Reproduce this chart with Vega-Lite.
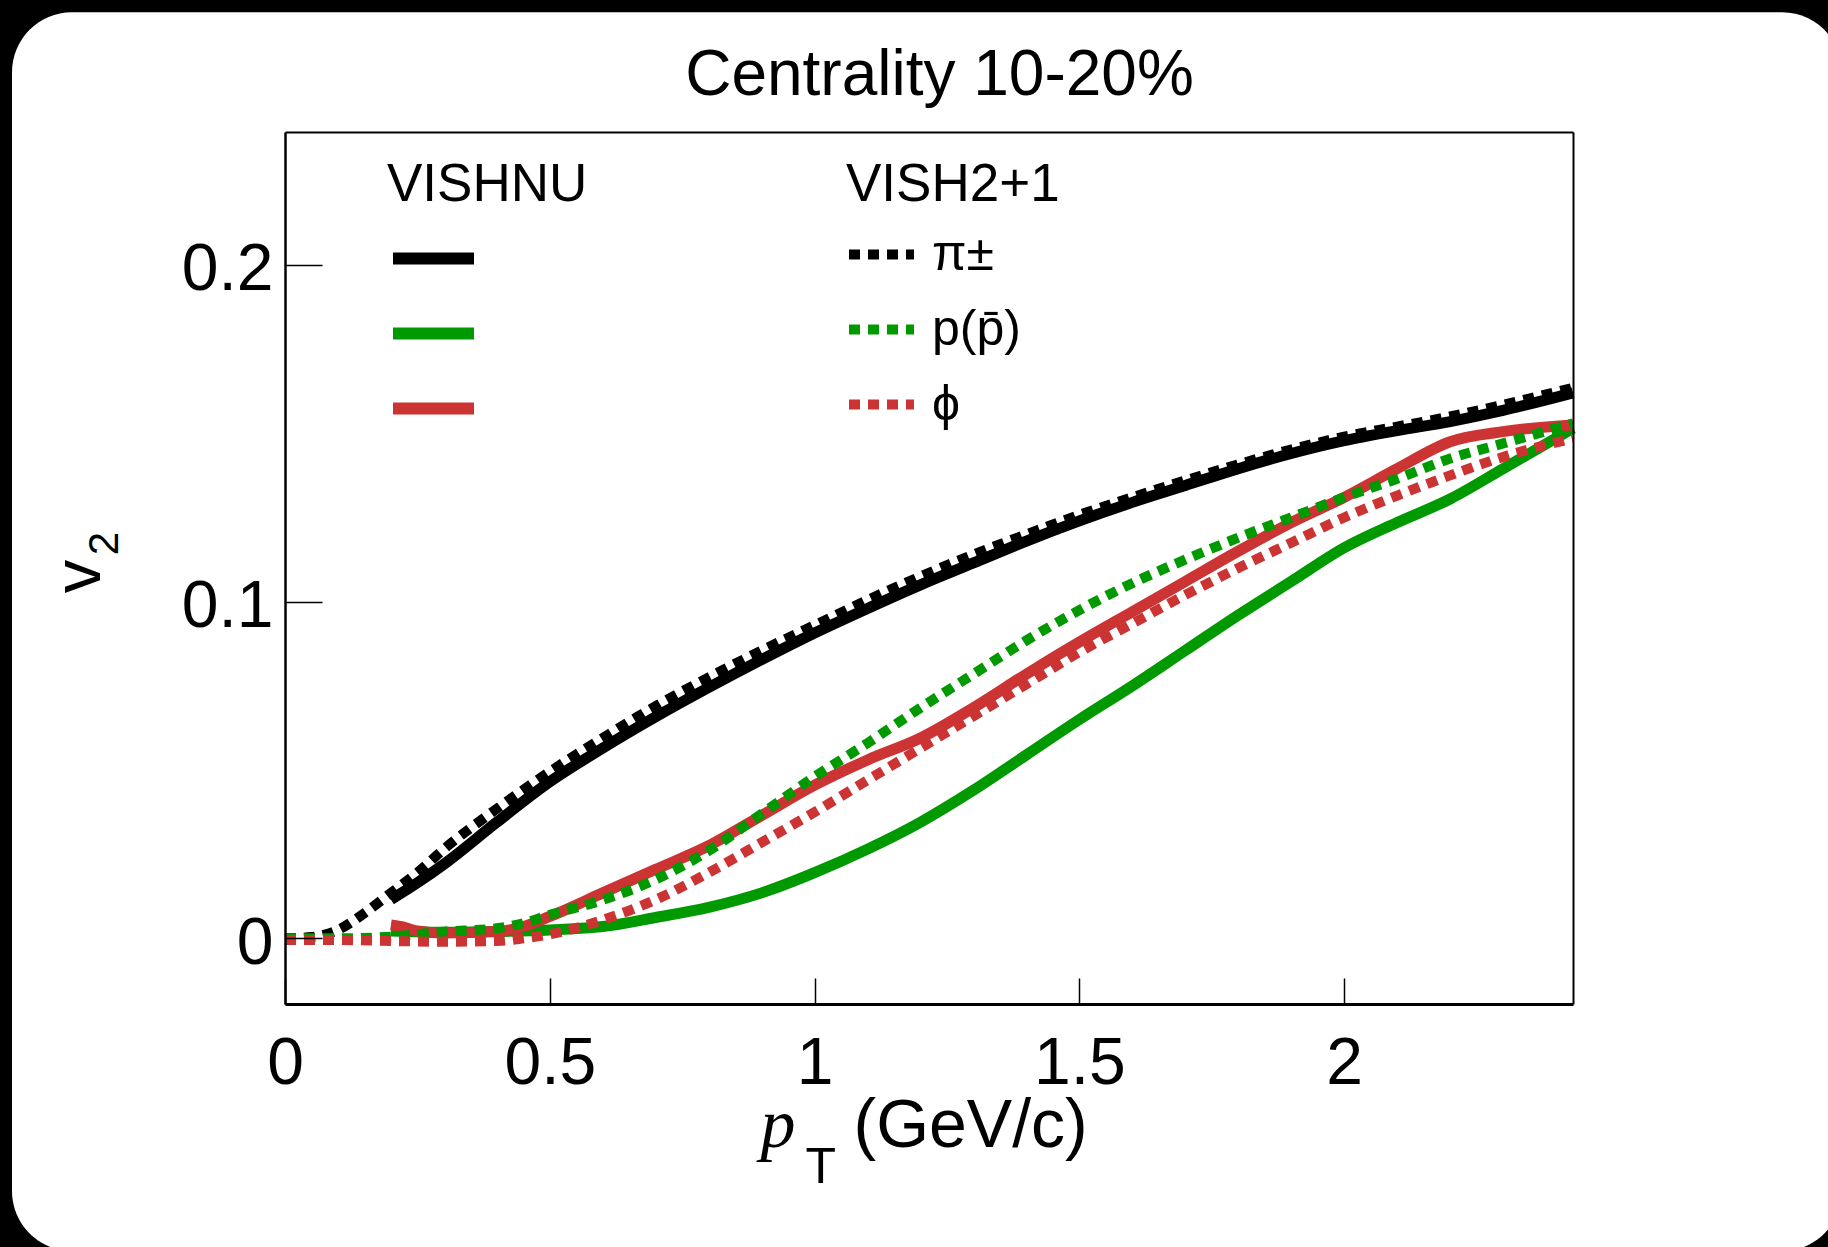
{
  "$schema": "https://vega.github.io/schema/vega-lite/v6.json",
  "width": 1288,
  "height": 872,
  "autosize": {"type": "none"},
  "padding": {"left": 285, "top": 132, "right": 255, "bottom": 243},
  "background": "black",
  "config": {"view": {"stroke": null}, "font": "Liberation Sans"},
  "datasets": {
    "curves": [
      {"pt":0.2,"v2":0.0115,"model":"VISHNU","particle":"π±"},
      {"pt":0.25,"v2":0.0165,"model":"VISHNU","particle":"π±"},
      {"pt":0.3,"v2":0.022,"model":"VISHNU","particle":"π±"},
      {"pt":0.4,"v2":0.0345,"model":"VISHNU","particle":"π±"},
      {"pt":0.5,"v2":0.0465,"model":"VISHNU","particle":"π±"},
      {"pt":0.6,"v2":0.0565,"model":"VISHNU","particle":"π±"},
      {"pt":0.7,"v2":0.0658,"model":"VISHNU","particle":"π±"},
      {"pt":0.8,"v2":0.0745,"model":"VISHNU","particle":"π±"},
      {"pt":0.9,"v2":0.0828,"model":"VISHNU","particle":"π±"},
      {"pt":1.0,"v2":0.0907,"model":"VISHNU","particle":"π±"},
      {"pt":1.1,"v2":0.098,"model":"VISHNU","particle":"π±"},
      {"pt":1.2,"v2":0.105,"model":"VISHNU","particle":"π±"},
      {"pt":1.3,"v2":0.1115,"model":"VISHNU","particle":"π±"},
      {"pt":1.4,"v2":0.118,"model":"VISHNU","particle":"π±"},
      {"pt":1.5,"v2":0.124,"model":"VISHNU","particle":"π±"},
      {"pt":1.6,"v2":0.1295,"model":"VISHNU","particle":"π±"},
      {"pt":1.7,"v2":0.1345,"model":"VISHNU","particle":"π±"},
      {"pt":1.8,"v2":0.1395,"model":"VISHNU","particle":"π±"},
      {"pt":1.9,"v2":0.144,"model":"VISHNU","particle":"π±"},
      {"pt":2.0,"v2":0.1478,"model":"VISHNU","particle":"π±"},
      {"pt":2.1,"v2":0.1508,"model":"VISHNU","particle":"π±"},
      {"pt":2.2,"v2":0.1535,"model":"VISHNU","particle":"π±"},
      {"pt":2.3,"v2":0.1568,"model":"VISHNU","particle":"π±"},
      {"pt":2.432,"v2":0.162,"model":"VISHNU","particle":"π±"},

      {"pt":0.2,"v2":0.0022,"model":"VISHNU","particle":"p(p̄)"},
      {"pt":0.3,"v2":0.0018,"model":"VISHNU","particle":"p(p̄)"},
      {"pt":0.4,"v2":0.002,"model":"VISHNU","particle":"p(p̄)"},
      {"pt":0.5,"v2":0.0025,"model":"VISHNU","particle":"p(p̄)"},
      {"pt":0.6,"v2":0.0035,"model":"VISHNU","particle":"p(p̄)"},
      {"pt":0.7,"v2":0.0062,"model":"VISHNU","particle":"p(p̄)"},
      {"pt":0.8,"v2":0.0092,"model":"VISHNU","particle":"p(p̄)"},
      {"pt":0.9,"v2":0.0135,"model":"VISHNU","particle":"p(p̄)"},
      {"pt":1.0,"v2":0.0195,"model":"VISHNU","particle":"p(p̄)"},
      {"pt":1.1,"v2":0.0265,"model":"VISHNU","particle":"p(p̄)"},
      {"pt":1.2,"v2":0.0345,"model":"VISHNU","particle":"p(p̄)"},
      {"pt":1.3,"v2":0.044,"model":"VISHNU","particle":"p(p̄)"},
      {"pt":1.4,"v2":0.0545,"model":"VISHNU","particle":"p(p̄)"},
      {"pt":1.5,"v2":0.065,"model":"VISHNU","particle":"p(p̄)"},
      {"pt":1.6,"v2":0.075,"model":"VISHNU","particle":"p(p̄)"},
      {"pt":1.7,"v2":0.0855,"model":"VISHNU","particle":"p(p̄)"},
      {"pt":1.8,"v2":0.096,"model":"VISHNU","particle":"p(p̄)"},
      {"pt":1.9,"v2":0.106,"model":"VISHNU","particle":"p(p̄)"},
      {"pt":2.0,"v2":0.116,"model":"VISHNU","particle":"p(p̄)"},
      {"pt":2.1,"v2":0.1235,"model":"VISHNU","particle":"p(p̄)"},
      {"pt":2.2,"v2":0.1305,"model":"VISHNU","particle":"p(p̄)"},
      {"pt":2.3,"v2":0.1395,"model":"VISHNU","particle":"p(p̄)"},
      {"pt":2.432,"v2":0.1515,"model":"VISHNU","particle":"p(p̄)"},

      {"pt":0.2,"v2":0.004,"model":"VISHNU","particle":"ϕ"},
      {"pt":0.22,"v2":0.0035,"model":"VISHNU","particle":"ϕ"},
      {"pt":0.25,"v2":0.0022,"model":"VISHNU","particle":"ϕ"},
      {"pt":0.3,"v2":0.0016,"model":"VISHNU","particle":"ϕ"},
      {"pt":0.4,"v2":0.002,"model":"VISHNU","particle":"ϕ"},
      {"pt":0.45,"v2":0.0035,"model":"VISHNU","particle":"ϕ"},
      {"pt":0.5,"v2":0.0065,"model":"VISHNU","particle":"ϕ"},
      {"pt":0.6,"v2":0.0135,"model":"VISHNU","particle":"ϕ"},
      {"pt":0.7,"v2":0.0205,"model":"VISHNU","particle":"ϕ"},
      {"pt":0.8,"v2":0.0275,"model":"VISHNU","particle":"ϕ"},
      {"pt":0.9,"v2":0.0365,"model":"VISHNU","particle":"ϕ"},
      {"pt":1.0,"v2":0.0455,"model":"VISHNU","particle":"ϕ"},
      {"pt":1.1,"v2":0.053,"model":"VISHNU","particle":"ϕ"},
      {"pt":1.2,"v2":0.0595,"model":"VISHNU","particle":"ϕ"},
      {"pt":1.3,"v2":0.0685,"model":"VISHNU","particle":"ϕ"},
      {"pt":1.4,"v2":0.0785,"model":"VISHNU","particle":"ϕ"},
      {"pt":1.5,"v2":0.088,"model":"VISHNU","particle":"ϕ"},
      {"pt":1.6,"v2":0.097,"model":"VISHNU","particle":"ϕ"},
      {"pt":1.7,"v2":0.106,"model":"VISHNU","particle":"ϕ"},
      {"pt":1.8,"v2":0.115,"model":"VISHNU","particle":"ϕ"},
      {"pt":1.9,"v2":0.1235,"model":"VISHNU","particle":"ϕ"},
      {"pt":2.0,"v2":0.131,"model":"VISHNU","particle":"ϕ"},
      {"pt":2.1,"v2":0.1395,"model":"VISHNU","particle":"ϕ"},
      {"pt":2.2,"v2":0.1475,"model":"VISHNU","particle":"ϕ"},
      {"pt":2.3,"v2":0.1505,"model":"VISHNU","particle":"ϕ"},
      {"pt":2.432,"v2":0.1525,"model":"VISHNU","particle":"ϕ"},

      {"pt":0.0,"v2":0.0,"model":"VISH2+1","particle":"π±"},
      {"pt":0.05,"v2":0.0004,"model":"VISH2+1","particle":"π±"},
      {"pt":0.1,"v2":0.0025,"model":"VISH2+1","particle":"π±"},
      {"pt":0.15,"v2":0.0075,"model":"VISH2+1","particle":"π±"},
      {"pt":0.2,"v2":0.0135,"model":"VISH2+1","particle":"π±"},
      {"pt":0.25,"v2":0.0195,"model":"VISH2+1","particle":"π±"},
      {"pt":0.3,"v2":0.0265,"model":"VISH2+1","particle":"π±"},
      {"pt":0.4,"v2":0.0385,"model":"VISH2+1","particle":"π±"},
      {"pt":0.5,"v2":0.0495,"model":"VISH2+1","particle":"π±"},
      {"pt":0.6,"v2":0.0595,"model":"VISH2+1","particle":"π±"},
      {"pt":0.7,"v2":0.069,"model":"VISH2+1","particle":"π±"},
      {"pt":0.8,"v2":0.0775,"model":"VISH2+1","particle":"π±"},
      {"pt":0.9,"v2":0.0855,"model":"VISH2+1","particle":"π±"},
      {"pt":1.0,"v2":0.093,"model":"VISH2+1","particle":"π±"},
      {"pt":1.1,"v2":0.1005,"model":"VISH2+1","particle":"π±"},
      {"pt":1.2,"v2":0.1075,"model":"VISH2+1","particle":"π±"},
      {"pt":1.3,"v2":0.114,"model":"VISH2+1","particle":"π±"},
      {"pt":1.4,"v2":0.12,"model":"VISH2+1","particle":"π±"},
      {"pt":1.5,"v2":0.1258,"model":"VISH2+1","particle":"π±"},
      {"pt":1.6,"v2":0.131,"model":"VISH2+1","particle":"π±"},
      {"pt":1.7,"v2":0.136,"model":"VISH2+1","particle":"π±"},
      {"pt":1.8,"v2":0.1408,"model":"VISH2+1","particle":"π±"},
      {"pt":1.9,"v2":0.1452,"model":"VISH2+1","particle":"π±"},
      {"pt":2.0,"v2":0.149,"model":"VISH2+1","particle":"π±"},
      {"pt":2.1,"v2":0.152,"model":"VISH2+1","particle":"π±"},
      {"pt":2.2,"v2":0.155,"model":"VISH2+1","particle":"π±"},
      {"pt":2.3,"v2":0.1585,"model":"VISH2+1","particle":"π±"},
      {"pt":2.432,"v2":0.1635,"model":"VISH2+1","particle":"π±"},

      {"pt":0.0,"v2":0.0,"model":"VISH2+1","particle":"p(p̄)"},
      {"pt":0.1,"v2":0.0,"model":"VISH2+1","particle":"p(p̄)"},
      {"pt":0.2,"v2":0.0005,"model":"VISH2+1","particle":"p(p̄)"},
      {"pt":0.3,"v2":0.002,"model":"VISH2+1","particle":"p(p̄)"},
      {"pt":0.4,"v2":0.003,"model":"VISH2+1","particle":"p(p̄)"},
      {"pt":0.45,"v2":0.0045,"model":"VISH2+1","particle":"p(p̄)"},
      {"pt":0.5,"v2":0.007,"model":"VISH2+1","particle":"p(p̄)"},
      {"pt":0.6,"v2":0.0114,"model":"VISH2+1","particle":"p(p̄)"},
      {"pt":0.7,"v2":0.0175,"model":"VISH2+1","particle":"p(p̄)"},
      {"pt":0.8,"v2":0.026,"model":"VISH2+1","particle":"p(p̄)"},
      {"pt":0.9,"v2":0.037,"model":"VISH2+1","particle":"p(p̄)"},
      {"pt":1.0,"v2":0.048,"model":"VISH2+1","particle":"p(p̄)"},
      {"pt":1.1,"v2":0.058,"model":"VISH2+1","particle":"p(p̄)"},
      {"pt":1.2,"v2":0.0685,"model":"VISH2+1","particle":"p(p̄)"},
      {"pt":1.3,"v2":0.0785,"model":"VISH2+1","particle":"p(p̄)"},
      {"pt":1.4,"v2":0.0885,"model":"VISH2+1","particle":"p(p̄)"},
      {"pt":1.5,"v2":0.0975,"model":"VISH2+1","particle":"p(p̄)"},
      {"pt":1.6,"v2":0.1055,"model":"VISH2+1","particle":"p(p̄)"},
      {"pt":1.7,"v2":0.1125,"model":"VISH2+1","particle":"p(p̄)"},
      {"pt":1.8,"v2":0.119,"model":"VISH2+1","particle":"p(p̄)"},
      {"pt":1.9,"v2":0.125,"model":"VISH2+1","particle":"p(p̄)"},
      {"pt":2.0,"v2":0.131,"model":"VISH2+1","particle":"p(p̄)"},
      {"pt":2.1,"v2":0.1365,"model":"VISH2+1","particle":"p(p̄)"},
      {"pt":2.2,"v2":0.1425,"model":"VISH2+1","particle":"p(p̄)"},
      {"pt":2.3,"v2":0.147,"model":"VISH2+1","particle":"p(p̄)"},
      {"pt":2.432,"v2":0.153,"model":"VISH2+1","particle":"p(p̄)"},

      {"pt":0.0,"v2":-0.0005,"model":"VISH2+1","particle":"ϕ"},
      {"pt":0.1,"v2":-0.0005,"model":"VISH2+1","particle":"ϕ"},
      {"pt":0.2,"v2":-0.0008,"model":"VISH2+1","particle":"ϕ"},
      {"pt":0.3,"v2":-0.001,"model":"VISH2+1","particle":"ϕ"},
      {"pt":0.4,"v2":-0.0008,"model":"VISH2+1","particle":"ϕ"},
      {"pt":0.45,"v2":0.0,"model":"VISH2+1","particle":"ϕ"},
      {"pt":0.5,"v2":0.0012,"model":"VISH2+1","particle":"ϕ"},
      {"pt":0.6,"v2":0.0055,"model":"VISH2+1","particle":"ϕ"},
      {"pt":0.7,"v2":0.0115,"model":"VISH2+1","particle":"ϕ"},
      {"pt":0.8,"v2":0.0195,"model":"VISH2+1","particle":"ϕ"},
      {"pt":0.9,"v2":0.0285,"model":"VISH2+1","particle":"ϕ"},
      {"pt":1.0,"v2":0.0375,"model":"VISH2+1","particle":"ϕ"},
      {"pt":1.1,"v2":0.047,"model":"VISH2+1","particle":"ϕ"},
      {"pt":1.2,"v2":0.0565,"model":"VISH2+1","particle":"ϕ"},
      {"pt":1.3,"v2":0.066,"model":"VISH2+1","particle":"ϕ"},
      {"pt":1.4,"v2":0.0755,"model":"VISH2+1","particle":"ϕ"},
      {"pt":1.5,"v2":0.085,"model":"VISH2+1","particle":"ϕ"},
      {"pt":1.6,"v2":0.0935,"model":"VISH2+1","particle":"ϕ"},
      {"pt":1.7,"v2":0.102,"model":"VISH2+1","particle":"ϕ"},
      {"pt":1.8,"v2":0.11,"model":"VISH2+1","particle":"ϕ"},
      {"pt":1.9,"v2":0.1175,"model":"VISH2+1","particle":"ϕ"},
      {"pt":2.0,"v2":0.125,"model":"VISH2+1","particle":"ϕ"},
      {"pt":2.1,"v2":0.1315,"model":"VISH2+1","particle":"ϕ"},
      {"pt":2.2,"v2":0.1375,"model":"VISH2+1","particle":"ϕ"},
      {"pt":2.3,"v2":0.143,"model":"VISH2+1","particle":"ϕ"},
      {"pt":2.432,"v2":0.1485,"model":"VISH2+1","particle":"ϕ"}
    ]
  },
  "resolve": {
    "scale": {"color": "independent"},
    "axis": {"x": "independent", "y": "independent"},
    "legend": {"color": "independent"}
  },
  "layer": [
    {
      "data": {"values": [{}]},
      "mark": {"type": "rect", "fill": "white", "cornerRadius": 60},
      "encoding": {
        "x": {
          "datum": -0.5155, "type": "quantitative",
          "scale": {"domain": [0, 2.432], "nice": false, "zero": false},
          "axis": {
            "orient": "top", "domain": true, "domainColor": "black", "domainWidth": 2,
            "ticks": false, "labels": false, "grid": false, "zindex": 1,
            "title": "Centrality 10-20%", "titleX": 654, "titleY": -38, "titleAngle": 0,
            "titleAlign": "center", "titleBaseline": "alphabetic", "titleFontSize": 64, "titleLimit": 2000,
            "titleFont": "Liberation Sans", "titleFontWeight": "normal", "titleColor": "black"
          }
        },
        "x2": {"datum": 2.9399},
        "y": {
          "datum": 0.2751, "type": "quantitative",
          "scale": {"domain": [-0.0195, 0.2395], "nice": false, "zero": false},
          "axis": {
            "orient": "right", "domain": true, "domainColor": "black", "domainWidth": 2,
            "ticks": false, "labels": false, "grid": false, "zindex": 1,
            "title": "T", "titleX": -768, "titleY": 1050, "titleAngle": 0,
            "titleAlign": "left", "titleBaseline": "alphabetic", "titleFontSize": 50,
            "titleFont": "Liberation Sans", "titleFontWeight": "normal", "titleColor": "black"
          }
        },
        "y2": {"datum": -0.0929}
      }
    },
    {
      "data": {"name": "curves"},
      "transform": [{"filter": "datum.model == 'VISHNU'"}],
      "mark": {"type": "line", "strokeWidth": 11, "interpolate": "monotone", "strokeCap": "butt", "strokeJoin": "round"},
      "encoding": {
        "x": {
          "field": "pt", "type": "quantitative",
          "scale": {"domain": [0, 2.432], "nice": false, "zero": false},
          "axis": {
            "orient": "bottom", "values": [0, 0.5, 1, 1.5, 2], "format": "~g",
            "domain": true, "domainColor": "black", "domainWidth": 3,
            "ticks": true, "tickColor": "black", "tickWidth": 1.5, "tickSize": -26,
            "labels": true, "labelFontSize": 66, "labelFont": "Liberation Sans", "labelColor": "black",
            "labelPadding": 53, "labelFlush": false, "labelOverlap": false, "grid": false, "zindex": 1,
            "title": "(GeV/c)", "titleX": 568, "titleY": 142, "titleAngle": 0,
            "titleAlign": "left", "titleBaseline": "alphabetic", "titleFontSize": 68,
            "titleFont": "Liberation Sans", "titleFontWeight": "normal", "titleColor": "black"
          }
        },
        "y": {
          "field": "v2", "type": "quantitative",
          "scale": {"domain": [-0.0195, 0.2395], "nice": false, "zero": false},
          "axis": {
            "orient": "left", "values": [0, 0.1, 0.2], "format": "~g",
            "domain": true, "domainColor": "black", "domainWidth": 2.5,
            "ticks": true, "tickColor": "black", "tickWidth": 1.5, "tickSize": -37,
            "labels": true, "labelFontSize": 66, "labelFont": "Liberation Sans", "labelColor": "black",
            "labelPadding": 49, "labelOffset": 5, "labelFlush": false, "labelOverlap": false, "grid": false, "zindex": 1,
            "title": "v", "titleX": -186, "titleY": 444, "titleAngle": 270,
            "titleAlign": "center", "titleBaseline": "alphabetic", "titleFontSize": 67,
            "titleFont": "Liberation Sans", "titleFontWeight": "normal", "titleColor": "black"
          }
        },
        "color": {
          "field": "particle", "type": "nominal",
          "scale": {"domain": ["π±", "p(p̄)", "ϕ"], "range": ["#000000", "#009900", "#cc3333"]},
          "legend": {
            "title": "VISHNU", "orient": "none", "legendX": 102, "legendY": 27, "padding": 0,
            "titleFontSize": 53, "titleFont": "Liberation Sans", "titleFontWeight": "normal", "titleColor": "black",
            "titleLimit": 1000, "titlePadding": 0, "labelExpr": "''",
            "symbolType": "stroke", "symbolSize": 6561, "symbolStrokeWidth": 12, "symbolOffset": 0,
            "rowPadding": 4
          }
        }
      }
    },
    {
      "data": {"name": "curves"},
      "transform": [{"filter": "datum.model == 'VISH2+1'"}],
      "mark": {"type": "line", "strokeWidth": 10, "strokeDash": [11, 8], "interpolate": "monotone", "strokeCap": "butt", "strokeJoin": "round"},
      "encoding": {
        "x": {
          "field": "pt", "type": "quantitative",
          "scale": {"domain": [0, 2.432], "nice": false, "zero": false},
          "axis": {
            "orient": "bottom", "domain": false, "ticks": false, "labels": false, "grid": false, "zindex": 1,
            "title": "p", "titleX": 475, "titleY": 142, "titleAngle": 0,
            "titleAlign": "left", "titleBaseline": "alphabetic", "titleFontSize": 70,
            "titleFont": "Liberation Serif", "titleFontStyle": "italic", "titleFontWeight": "normal", "titleColor": "black"
          }
        },
        "y": {
          "field": "v2", "type": "quantitative",
          "scale": {"domain": [-0.0195, 0.2395], "nice": false, "zero": false},
          "axis": {
            "orient": "left", "domain": false, "ticks": false, "labels": false, "grid": false, "zindex": 1,
            "title": "2", "titleX": -168, "titleY": 411, "titleAngle": 270,
            "titleAlign": "center", "titleBaseline": "alphabetic", "titleFontSize": 42,
            "titleFont": "Liberation Sans", "titleFontWeight": "normal", "titleColor": "black"
          }
        },
        "color": {
          "field": "particle", "type": "nominal",
          "scale": {"domain": ["π±", "p(p̄)", "ϕ"], "range": ["#000000", "#009900", "#cc3333"]},
          "legend": {
            "title": "VISH2+1", "orient": "none", "legendX": 561, "legendY": 27, "padding": 0,
            "titleFontSize": 53, "titleFont": "Liberation Sans", "titleFontWeight": "normal", "titleColor": "black",
            "titleLimit": 1000, "titlePadding": 5,
            "labelFontSize": 50, "labelFont": "Liberation Sans", "labelColor": "black", "labelOffset": 13, "labelLimit": 500,
            "symbolType": "stroke", "symbolSize": 4225, "symbolStrokeWidth": 10, "symbolDash": [11, 8], "symbolOffset": -2,
            "rowPadding": 12
          }
        }
      }
    }
  ]
}
